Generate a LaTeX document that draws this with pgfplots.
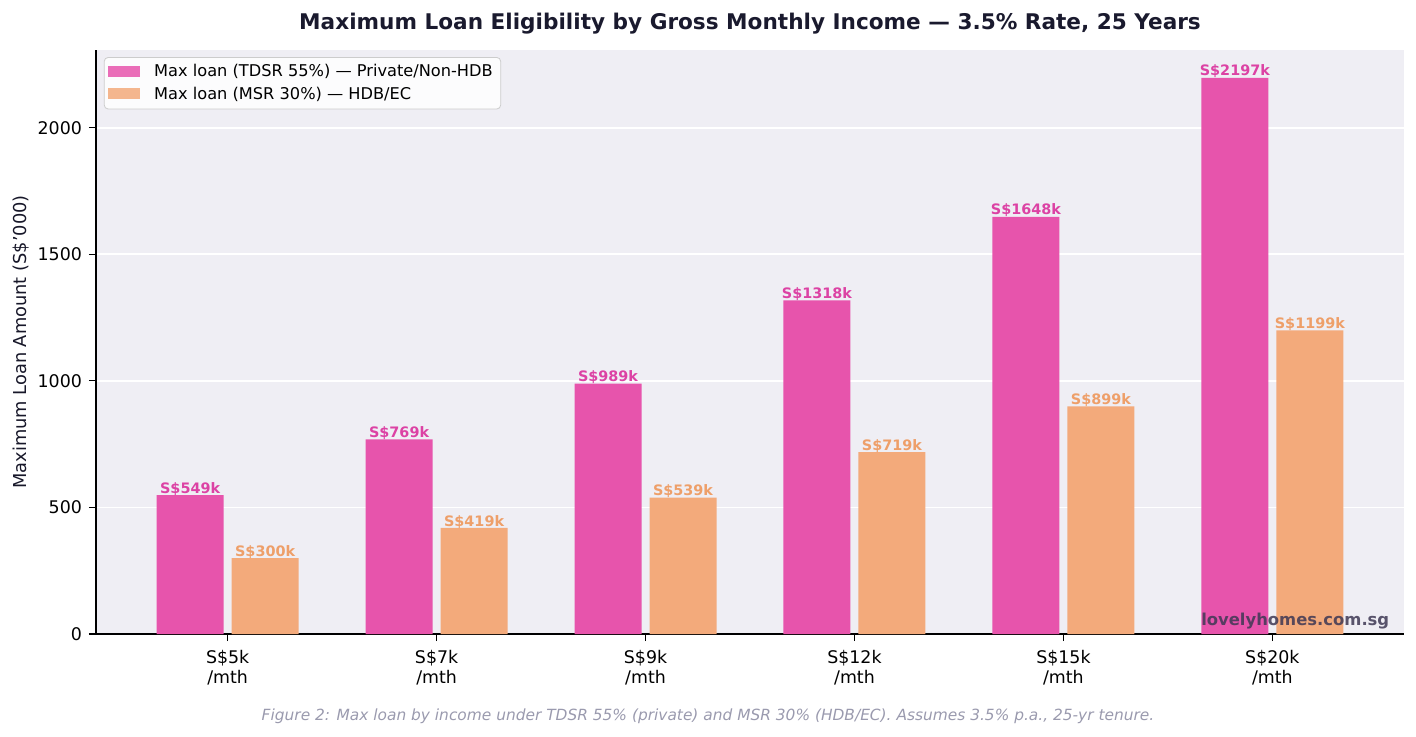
\documentclass[border=0pt]{standalone}
\usepackage{fontspec}
\setmainfont{DejaVu Sans}
\usepackage{pgfplots}
\pgfplotsset{compat=1.18}
\definecolor{pinkbar}{HTML}{E754AC}
\definecolor{orangebar}{HTML}{F3AA7B}
\definecolor{pinklab}{HTML}{DC42A4}
\definecolor{orangelab}{HTML}{EE9F69}
\definecolor{axbg}{HTML}{EFEEF4}
\definecolor{titlec}{HTML}{1A1A2E}
\definecolor{capc}{HTML}{9A9AAE}
\definecolor{wmc}{HTML}{3E3854}
\begin{document}
\begin{tikzpicture}[x=1pt,y=1pt]
\path[use as bounding box] (0,0) rectangle (708,368);
\begin{axis}[
  at={(48pt,51pt)}, anchor=south west, scale only axis,
  width=654pt, height=292pt,
  xmin=-0.63, xmax=5.63, ymin=0, ymax=2307,
  ybar=4pt, bar width=33.5pt,
  axis background/.style={fill=axbg},
  axis x line*=bottom, axis y line*=left,
  axis line style={black, line width=0.6pt},
  tick align=outside, major tick length=3.5pt,
  tick style={black, line width=0.6pt},
  xtick={0,1,2,3,4,5},
  xticklabels={{S\$5k\\/mth},{S\$7k\\/mth},{S\$9k\\/mth},{S\$12k\\/mth},{S\$15k\\/mth},{S\$20k\\/mth}},
  xticklabel style={align=center, font=\fontsize{8.7}{10}\selectfont, text=black, yshift=-1.2pt},
  ytick={0,500,1000,1500,2000},
  yticklabel style={font=\fontsize{8.7}{10.2}\selectfont, text=black},
  /pgf/number format/assume math mode=true,
  /pgf/number format/1000 sep={},
  ymajorgrids, grid style={white, line width=0.8pt},
  ylabel={Maximum Loan Amount (S\$'000)},
  ylabel style={at={(axis description cs:-0.057,0.5)}, anchor=center, font=\fontsize{8.9}{10.5}\selectfont, text=titlec!90!black},
  legend style={at={(axis description cs:0.006,0.988)}, anchor=north west,
    font=\fontsize{8.1}{10}\selectfont, draw=black!20, rounded corners=2pt,
    fill=white, fill opacity=0.85, text opacity=1, inner sep=2pt,
    row sep=0.5pt, column sep=5pt, nodes={inner xsep=2pt, inner ysep=1.5pt}},
  legend cell align=left,
  legend image code/.code={\fill[#1, sharp corners] (3pt,-2.5pt) rectangle (19pt,3pt);},
  nodes near coords={S\$\pgfmathprintnumber[fixed,precision=0,1000 sep={}]{\pgfplotspointmeta}k},
  every node near coord/.append style={font=\bfseries\fontsize{7.2}{8.5}\selectfont, anchor=south, inner sep=0pt, yshift=-0.3pt, /pgf/number format/assume math mode=true},
]
\addplot[fill=pinkbar, draw=none, every node near coord/.append style={text=pinklab}]
  coordinates {(0,549) (1,769) (2,989) (3,1318) (4,1648) (5,2197)};
\addplot[fill=orangebar, draw=none, every node near coord/.append style={text=orangelab}]
  coordinates {(0,300) (1,419) (2,539) (3,719) (4,899) (5,1199)};
\legend{Max loan (TDSR 55\%) — Private/Non-HDB, Max loan (MSR 30\%) — HDB/EC}
\node[anchor=south east, font=\bfseries\fontsize{8.2}{10}\selectfont, text=wmc, text opacity=0.85, inner sep=0pt]
  at (axis description cs:0.989,0.007) {lovelyhomes.com.sg};
\end{axis}
\node[font=\bfseries\fontsize{10.8}{13}\selectfont, text=titlec] at (375,356) {Maximum Loan Eligibility by Gross Monthly Income — 3.5\% Rate, 25 Years};
\node[font=\itshape\fontsize{7.7}{9}\selectfont, text=capc] at (354,10) {Figure 2: Max loan by income under TDSR 55\% (private) and MSR 30\% (HDB/EC). Assumes 3.5\% p.a., 25-yr tenure.};
\end{tikzpicture}
\end{document}
